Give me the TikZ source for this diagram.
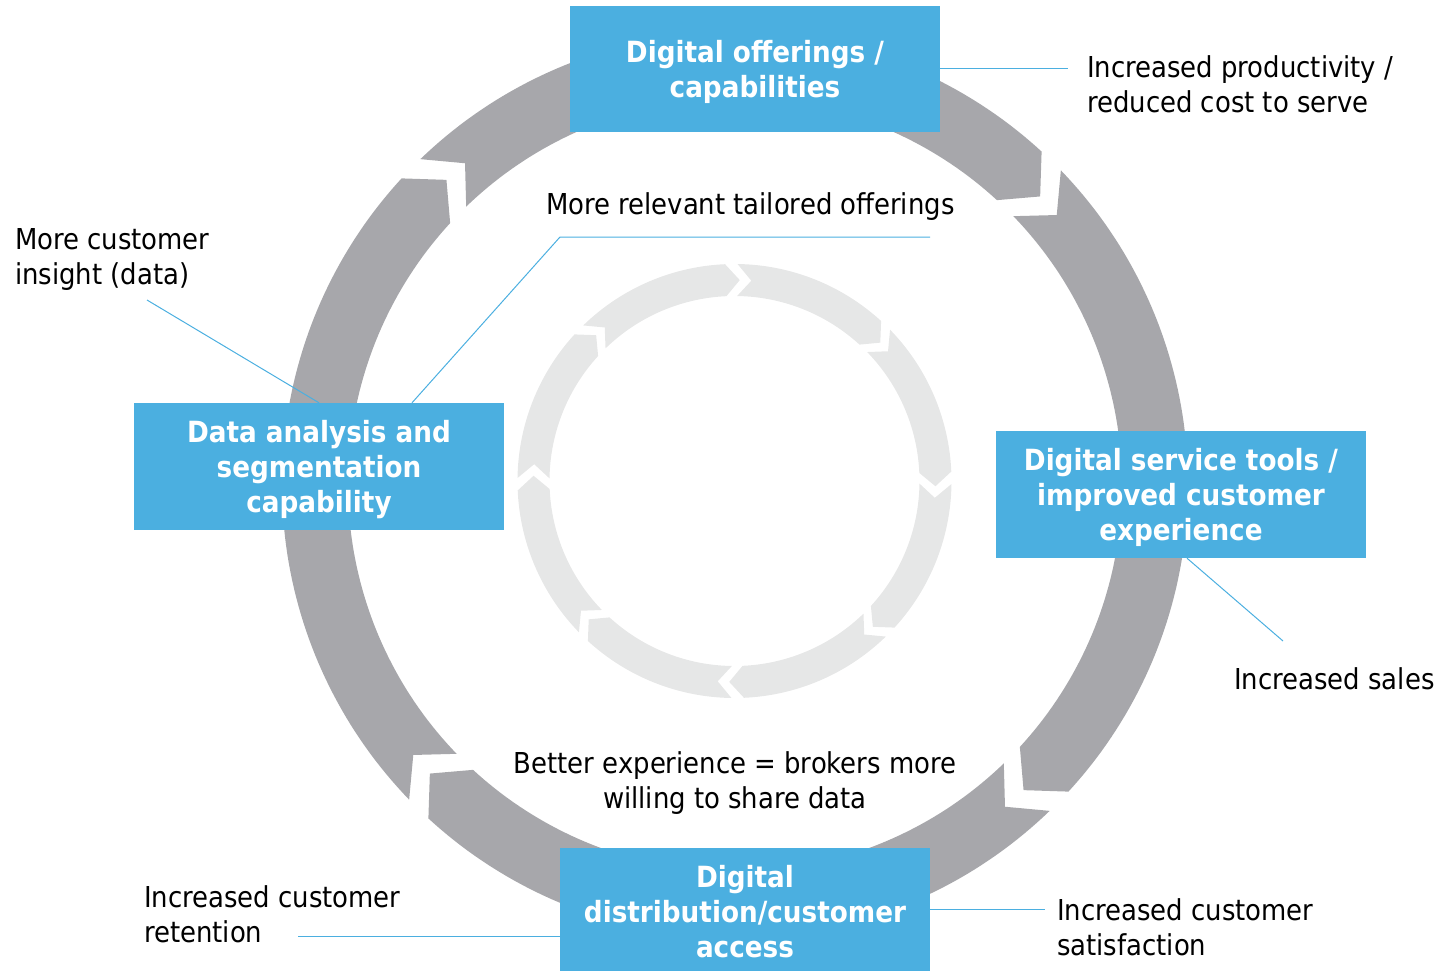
\documentclass[tikz,border=0pt]{standalone}
\usepackage{fontspec}
\setmainfont{DejaVu Sans Condensed}
\definecolor{ringgray}{HTML}{A7A7AB}
\definecolor{ringlight}{HTML}{E6E7E7}
\definecolor{boxblue}{HTML}{4BAFE0}
\definecolor{linkblue}{HTML}{4BAFE0}
% #1 start angle, #2 end angle, #3 inner radius, #4 outer radius, #5 chevron depth (deg), #6 colour
\newcommand{\chevseg}[6]{%
  \fill[#6] (#1:#4) -- plot[domain=#1:#2,samples=80] (\x:#4)
    -- ({#2+#5}:{(#3+#4)/2}) -- (#2:#3)
    -- plot[domain=#2:#1,samples=80] (\x:#3)
    -- ({#1+#5}:{(#3+#4)/2}) -- cycle;}
\newcommand{\toplinestrut}[1]{\rule{0pt}{#1pt}}
\tikzset{
  bluebox/.style={fill=boxblue, draw=none, text=white, align=center, inner sep=0pt,
    minimum width=370pt, font=\bfseries\fontsize{29.2}{35}\selectfont},
  lbl/.style={text=black, align=left, inner sep=0pt, font=\fontsize{28.8}{35}\selectfont},
  link/.style={draw=linkblue, line width=1pt}
}
\begin{document}
\begin{tikzpicture}[x=1pt,y=-1pt]
\useasboundingbox (0,0) rectangle (1441,971);
% outer ring
\begin{scope}[shift={(735,485)}]
  \chevseg{-134.0}{-47.4}{387}{453}{4}{ringgray}
  \chevseg{-44.0}{42.6}{387}{453}{4}{ringgray}
  \chevseg{46.0}{132.6}{387}{453}{4}{ringgray}
  \chevseg{136.0}{222.6}{387}{453}{4}{ringgray}
\end{scope}
% inner ring
\begin{scope}[shift={(734.5,481)}]
  \foreach \e in {-92.5,-47.5,-2.5,42.5,87.5,132.5,177.5,222.5}{
    \pgfmathsetmacro{\s}{\e-45+3.3}
    \chevseg{\s}{\e}{185}{217}{4}{ringlight}
  }
\end{scope}
% boxes
\node[bluebox, minimum height=126pt] (topbox) at (755,69) {\toplinestrut{28}Digital offerings /\\capabilities};
\node[bluebox, minimum height=127pt] (leftbox) at (319,466.5) {\toplinestrut{28}Data analysis and\\segmentation\\capability};
\node[bluebox, minimum height=127pt] (rightbox) at (1181,494.5) {\toplinestrut{28}Digital service tools /\\improved customer\\experience};
\node[bluebox, minimum height=123pt] (botbox) at (745,909.5) {\toplinestrut{26}Digital\\distribution/customer\\access};
% labels
\node[lbl, anchor=west] (prod) at (1087,84) {Increased productivity /\\reduced cost to serve};
\node[lbl, anchor=west] (tail) at (546,207) {More relevant tailored offerings};
\node[lbl, anchor=west] (insight) at (15,259) {More customer\\insight (data)};
\node[lbl, anchor=west] (sales) at (1234,679) {Increased sales};
\node[lbl, align=center] (better) at (735,783) {Better experience = brokers more\\willing to share data};
\node[lbl, anchor=west] (reten) at (144,914) {Increased customer\\retention};
\node[lbl, anchor=west] (satis) at (1057,927) {Increased customer\\satisfaction};
% connector free ends
\coordinate (prodc) at (1068,69);
\coordinate (tailr) at (930,237);
\coordinate (tailk) at (560,237);
\coordinate (insc) at (147,300);
\coordinate (salesc) at (1283,641);
\coordinate (satisc) at (1045,909.5);
\coordinate (retenc) at (298,936);
% connectors
\draw[link] (topbox.east) -- (prodc);
\draw[link] (tailr) -- (tailk) -- ([xshift=93pt]leftbox.north);
\draw[link] (insc) -- (leftbox.north);
\draw[link] ([xshift=6pt]rightbox.south) -- (salesc);
\draw[link] (botbox.east) -- (satisc);
\draw[link] (retenc) -- (botbox.west |- retenc);
\end{tikzpicture}
\end{document}
